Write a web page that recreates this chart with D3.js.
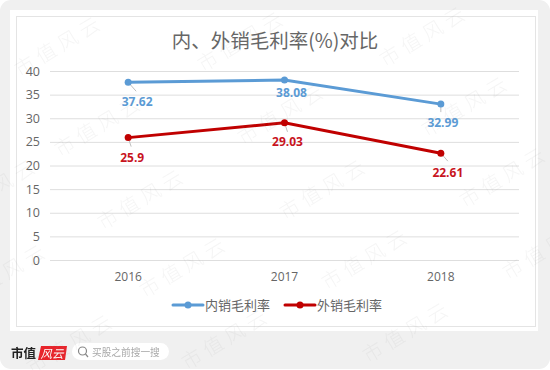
<!DOCTYPE html>
<html>
<head>
<meta charset="utf-8">
<script src="https://cdn.jsdelivr.net/npm/d3@7/dist/d3.min.js"></script>
<style>
  html, body { margin: 0; padding: 0; background: #fff; }
  svg { display: block; font-family: "Open Sans", "Noto Sans CJK SC", sans-serif; }
  .soft { filter: blur(0.35px); }
  .cjk { font-family: "Noto Sans CJK SC", sans-serif; }
</style>
</head>
<body>
<div id="wrapper"></div>
<script>
const years = ["2016", "2017", "2018"];
const domesticMargin = [37.62, 38.08, 32.99];
const foreignMargin = [25.9, 29.03, 22.61];
const yTicks = [0, 5, 10, 15, 20, 25, 30, 35, 40];
const seriesNames = ["内销毛利率", "外销毛利率"];
const titleText = "内、外销毛利率(%)对比";
const watermarkText = "市值风云";

const blue = "#5b9bd5";
const red = "#c00000";

// label offsets from the point, picked by eye
const domesticLabelOffset = [[9, 24], [7, 17], [2, 23]];
const foreignLabelOffset = [[4, 24], [3, 23], [7, 24]];
const domesticLeader = [[8, 9], [0, 0], [0, 8]];
const foreignLeader = [[3, 9], [3, 9], [7, 8]];

// watermark centres
const watermarks = [
  [60, 47], [243, 42], [425, 37],
  [100, 127], [283, 115], [467, 107],
  [-5, 190], [143, 200], [325, 190], [505, 178],
  [5, 275], [185, 268], [367, 260], [548, 250],
  [72, 345], [227, 340], [408, 333]
];

const dimensions = { width: 550, height: 370 };
const plot = { left: 50, right: 519, top: 71, bottom: 260 };

const svg = d3.select("#wrapper")
  .append("svg")
  .attr("width", dimensions.width)
  .attr("height", dimensions.height);

const bounds = svg.append("g").attr("class", "soft");

// background card
bounds.append("rect")
  .attr("width", dimensions.width)
  .attr("height", dimensions.height - 1)
  .attr("rx", 11)
  .attr("fill", "#f0f0f0");
bounds.append("rect")
  .attr("x", 10).attr("y", 10)
  .attr("width", 528).attr("height", 321)
  .attr("fill", "#fff");
bounds.append("rect")
  .attr("x", 16.5).attr("y", 16.5)
  .attr("width", 519).attr("height", 310)
  .attr("fill", "#fff")
  .attr("stroke", "#e4e4e4");

// scales
const xScale = d3.scaleBand()
  .domain(years)
  .range([plot.left, plot.right]);

const yScale = d3.scaleLinear()
  .domain([0, 40])
  .range([plot.bottom, plot.top]);

const xCenter = d => xScale(d) + xScale.bandwidth() / 2;

// title
bounds.append("text")
  .attr("class", "cjk")
  .attr("x", 275)
  .attr("y", 48)
  .attr("text-anchor", "middle")
  .attr("font-size", 19.5)
  .attr("fill", "#666")
  .text(titleText);

// axes
const yAxis = bounds.append("g")
  .attr("transform", `translate(${plot.left},0)`)
  .call(d3.axisLeft(yScale).tickValues(yTicks).tickSize(-(plot.right - plot.left)).tickPadding(10));
yAxis.select(".domain").remove();
yAxis.selectAll("line").attr("stroke", "#dedede").attr("stroke-width", 1);
yAxis.selectAll("text")
  .attr("font-family", "'Open Sans'")
  .attr("font-size", 12.5)
  .attr("fill", "#666");

const xAxis = bounds.append("g")
  .attr("transform", `translate(0,${plot.bottom})`)
  .call(d3.axisBottom(xScale).tickSize(0).tickPadding(12));
xAxis.select(".domain").remove();
xAxis.selectAll("text")
  .attr("font-family", "'Open Sans'")
  .attr("font-size", 12)
  .attr("fill", "#666");

// series
const lineGenerator = d3.line()
  .x((d, i) => xCenter(years[i]))
  .y(d => yScale(d));

function drawSeries(values, color, labelOffset, leader) {
  const g = bounds.append("g");

  g.selectAll(".leader")
    .data(values)
    .enter().append("line")
    .attr("class", "leader")
    .attr("x1", (d, i) => xCenter(years[i]))
    .attr("y1", d => yScale(d))
    .attr("x2", (d, i) => xCenter(years[i]) + leader[i][0])
    .attr("y2", (d, i) => yScale(d) + leader[i][1])
    .attr("stroke", "#bfbfbf")
    .attr("stroke-width", 1);

  g.append("path")
    .attr("d", lineGenerator(values))
    .attr("fill", "none")
    .attr("stroke", color)
    .attr("stroke-width", 3)
    .attr("stroke-linecap", "round");

  g.selectAll(".dot")
    .data(values)
    .enter().append("circle")
    .attr("class", "dot")
    .attr("cx", (d, i) => xCenter(years[i]))
    .attr("cy", d => yScale(d))
    .attr("r", 3.5)
    .attr("fill", color);

  g.selectAll(".value")
    .data(values)
    .enter().append("text")
    .attr("class", "value")
    .attr("x", (d, i) => xCenter(years[i]) + labelOffset[i][0])
    .attr("y", (d, i) => yScale(d) + labelOffset[i][1])
    .attr("text-anchor", "middle")
    .attr("font-family", "'Open Sans'")
    .attr("font-size", 12)
    .attr("font-weight", 700)
    .attr("fill", color === red ? "#c8141e" : color)
    .text(d => d);
}

drawSeries(domesticMargin, blue, domesticLabelOffset, domesticLeader);
drawSeries(foreignMargin, red, foreignLabelOffset, foreignLeader);

// legend
const legendX = [173, 285];
const legend = bounds.selectAll(".legend")
  .data(seriesNames)
  .enter().append("g")
  .attr("class", "legend")
  .attr("transform", (d, i) => `translate(${legendX[i]},305)`);
legend.append("line")
  .attr("x1", 0).attr("x2", 30)
  .attr("stroke", (d, i) => i === 0 ? blue : red)
  .attr("stroke-width", 3)
  .attr("stroke-linecap", "round");
legend.append("circle")
  .attr("cx", 15)
  .attr("r", 3.5)
  .attr("fill", (d, i) => i === 0 ? blue : red);
legend.append("text")
  .attr("class", "cjk")
  .attr("x", 32)
  .attr("y", 4.5)
  .attr("font-size", 13)
  .attr("fill", "#666")
  .text(d => d);

// footer
bounds.append("text")
  .attr("class", "cjk")
  .attr("x", 11)
  .attr("y", 358)
  .attr("font-size", 12.5)
  .attr("font-weight", 700)
  .attr("fill", "#222")
  .text("市值");
bounds.append("path")
  .attr("d", "M41,346 H67 L65,360 H38 Z")
  .attr("fill", "#e8232a");
bounds.append("text")
  .attr("class", "cjk")
  .attr("x", 52)
  .attr("y", 357.5)
  .attr("text-anchor", "middle")
  .attr("font-size", 11.5)
  .attr("font-style", "italic")
  .attr("fill", "#fff")
  .text("风云");
bounds.append("rect")
  .attr("x", 72).attr("y", 343)
  .attr("width", 97).attr("height", 17)
  .attr("rx", 8.5)
  .attr("fill", "#fff");
bounds.append("circle")
  .attr("cx", 82.5).attr("cy", 351)
  .attr("r", 4)
  .attr("fill", "none")
  .attr("stroke", "#888")
  .attr("stroke-width", 1.2);
bounds.append("line")
  .attr("x1", 85.5).attr("y1", 354)
  .attr("x2", 88).attr("y2", 357)
  .attr("stroke", "#888")
  .attr("stroke-width", 1.2);
bounds.append("text")
  .attr("class", "cjk")
  .attr("x", 92)
  .attr("y", 355.5)
  .attr("font-size", 9.7)
  .attr("fill", "#a8a8a8")
  .text("买股之前搜一搜");

// watermark on top of everything
svg.append("g")
  .selectAll("text")
  .data(watermarks)
  .enter().append("text")
  .attr("class", "cjk")
  .attr("transform", d => `translate(${d[0]},${d[1]}) rotate(-31)`)
  .attr("text-anchor", "middle")
  .attr("dominant-baseline", "middle")
  .attr("font-size", 20)
  .attr("font-weight", 300)
  .attr("letter-spacing", 5)
  .attr("fill", "#9a9a9a")
  .attr("fill-opacity", 0.1)
  .text(watermarkText);
</script>
</body>
</html>
